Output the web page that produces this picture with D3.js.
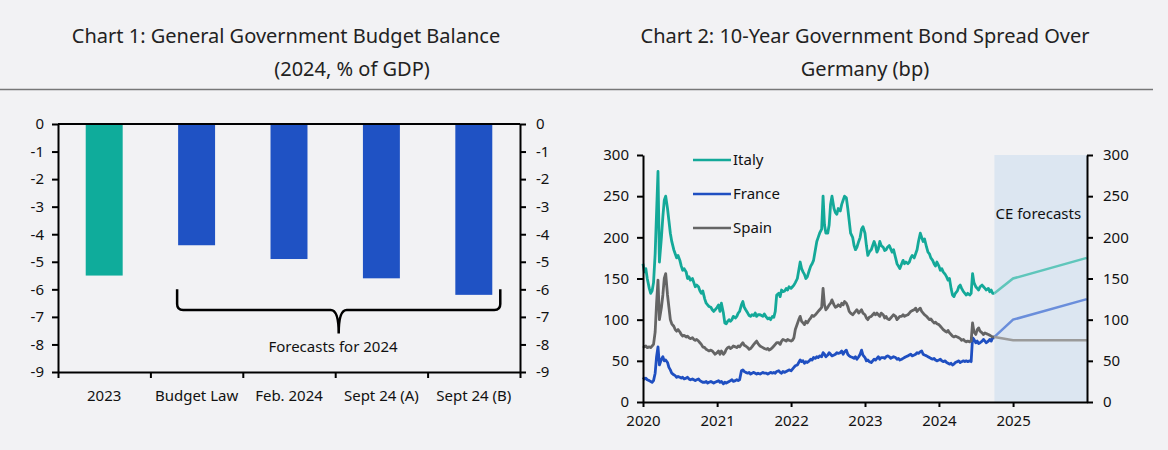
<!DOCTYPE html>
<html><head><meta charset="utf-8">
<script src="https://cdn.jsdelivr.net/npm/d3@7"></script>
<style>
html,body{margin:0;padding:0;background:#f2f2f4;}
svg{display:block;font-family:"Noto Sans",sans-serif;}
</style></head><body>
<svg id="c" width="1168" height="450"></svg>
<script>
// ---------- Chart 1 data ----------
const budgetCategories = ["2023", "Budget Law", "Feb. 2024", "Sept 24 (A)", "Sept 24 (B)"];
const budgetValues = [-5.5, -4.4, -4.9, -5.6, -6.2];
const budgetTicks = [0, -1, -2, -3, -4, -5, -6, -7, -8, -9];

// ---------- Chart 2 data (weekly: days 1, 8, 15, 22 of each month, Jan 2020 - Sep 2024, then 1 Oct 2024) ----------
const weekDays = [1, 8, 15, 22];
const italy = [
 168,158,162,150, 138,132,135,145, 180,230,280,170, 200,225,245,250, 235,220,205,195, 185,180,175,178, 172,165,160,162, 158,150,152,148, 150,145,140,142, 140,135,132,135, 125,120,118,116, 115,112,110,112,
 115,118,110,120, 108,96,95,98, 100,98,100,104, 102,104,108,110, 118,122,115,112, 108,105,104,106, 105,108,104,106, 106,105,104,107, 103,101,102,100, 104,103,110,130, 132,128,136,134, 135,138,136,140,
 138,140,142,145, 150,160,170,162, 158,155,150,152, 160,165,168,172, 185,195,200,205, 210,250,215,205, 205,215,240,250, 235,230,228,235, 232,240,245,250, 248,235,220,205, 200,190,185,188, 195,200,210,213,
 205,190,178,182, 185,190,195,190, 182,186,195,190, 188,184,185,188, 190,186,182,185, 175,168,165,162, 168,172,168,170, 168,170,175,178, 175,180,185,195, 205,200,195,198, 188,182,180,175, 172,168,165,170,
 165,160,162,158, 155,152,148,150, 138,130,128,132, 135,140,142,138, 134,132,130,132, 130,132,156,145, 140,138,136,140, 142,140,138,136, 138,134,136,132,
 132
];
const france = [
 30,28,29,27, 26,25,24,26, 35,55,67,45, 52,55,50,51, 48,42,39,35, 33,32,30,31, 30,29,30,28, 29,30,28,27, 28,27,26,27, 28,26,25,24, 24,25,23,24, 25,24,23,24,
 25,26,24,25, 22,24,23,24, 25,26,27,25, 26,27,26,27, 38,39,37,36, 35,36,34,35, 36,35,34,35, 34,35,36,35, 35,34,35,36, 35,36,35,37, 38,36,35,37, 36,37,38,39,
 38,40,42,44, 45,48,51,49, 50,47,49,48, 50,52,51,54, 53,55,54,56, 55,60,58,55, 57,60,58,56, 57,58,60,59, 60,62,58,61, 63,58,56,55, 54,53,55,52, 55,58,63,57,
 54,50,51,49, 48,50,52,51, 53,55,52,54, 54,53,55,56, 55,53,54,55, 54,52,53,51, 52,53,54,55, 56,57,58,56, 57,58,60,59, 61,62,58,57, 56,55,54,53, 52,53,51,50,
 51,52,50,49, 50,48,47,46, 47,45,46,48, 49,50,48,49, 50,49,50,49, 50,49,78,76, 72,74,71,72, 74,76,74,72, 74,76,74,78,
 78
];
const spain = [
 68,67,68,66, 67,66,68,70, 85,120,148,100, 115,130,150,156, 130,115,100,95, 92,88,86,88, 85,82,80,81, 79,80,78,77, 78,76,75,76, 74,72,70,67, 66,64,63,62, 63,62,60,58,
 60,62,58,62, 58,60,64,66, 67,65,66,68, 67,66,68,67, 70,72,69,68, 66,64,65,67, 70,72,74,71, 68,67,66,65, 64,65,63,64, 66,68,70,72, 72,70,74,76, 75,74,76,75,
 74,75,78,88, 95,100,104,98, 96,94,98,96, 100,102,105,104, 106,108,110,112, 115,138,118,112, 115,118,120,124, 118,115,116,118, 116,120,118,122, 120,116,110,108, 106,108,110,112, 108,110,112,108,
 106,102,100,103, 104,106,108,106, 108,106,104,108, 106,102,104,101, 100,102,104,106, 104,100,102,104, 104,106,104,105, 106,108,110,111, 112,114,110,112, 114,110,108,106, 104,102,100,101, 98,96,97,95,
 94,92,90,88, 86,85,87,84, 82,80,79,80, 79,78,77,75, 76,74,73,74, 73,74,96,85, 82,88,90,86, 84,82,84,83, 82,81,80,79,
 79
];
const forecastDates = ["2024-10-01", "2025-01-01", "2025-12-31"];
const italyForecast = [132, 150, 175];
const franceForecast = [79, 100, 125];
const spainForecast = [79, 75, 75];
const spreadTicks = [0, 50, 100, 150, 200, 250, 300];
const yearTicks = [2020, 2021, 2022, 2023, 2024, 2025];
const seriesNames = ["Italy", "France", "Spain"];
const seriesColors = ["#14a999", "#1f4fc1", "#656565"];
const forecastColors = ["#5fc6bb", "#6a8edb", "#9a9a9a"];

const svg = d3.select("#c");
const parse = d3.timeParse("%Y-%m-%d");

// ---------- Titles & rule ----------
const titleStyle = s => s.attr("font-size", 20).attr("fill", "#222").attr("text-anchor", "middle");
svg.append("text").attr("x", 286).attr("y", 43).text("Chart 1: General Government Budget Balance").call(titleStyle);
svg.append("text").attr("x", 352).attr("y", 76).text("(2024, % of GDP)").call(titleStyle);
svg.append("text").attr("x", 865).attr("y", 43).text("Chart 2: 10-Year Government Bond Spread Over").call(titleStyle);
svg.append("text").attr("x", 865).attr("y", 76).text("Germany (bp)").call(titleStyle);
svg.append("line").attr("x1", 0).attr("x2", 1153).attr("y1", 89.5).attr("y2", 89.5)
  .attr("stroke", "#777").attr("stroke-width", 1.5);

// ---------- Chart 1 ----------
const x1 = d3.scaleBand().domain(budgetCategories).range([58, 520]).paddingInner(0.6).paddingOuter(0.3);
const y1 = d3.scaleLinear().domain([0, -9]).range([124, 372]);
const g1 = svg.append("g");

g1.selectAll("rect.bar").data(budgetCategories).join("rect")
  .attr("x", d => x1(d)).attr("width", x1.bandwidth())
  .attr("y", y1(0)).attr("height", (d, i) => y1(budgetValues[i]) - y1(0))
  .attr("fill", (d, i) => i === 0 ? "#0fac9b" : "#1f52c4");

function styleAxis(g) {
  g.select(".domain").attr("stroke", "#000").attr("stroke-width", 2);
  g.selectAll(".tick line").attr("stroke", "#000").attr("stroke-width", 2);
  g.selectAll(".tick text").attr("font-size", 15).attr("fill", "#111").attr("font-family", "Noto Sans");
}
const hyphenFmt = d => String(d);
g1.append("g").attr("transform", "translate(58,0)")
  .call(d3.axisLeft(y1).tickValues(budgetTicks).tickSize(6).tickPadding(8).tickSizeOuter(0).tickFormat(hyphenFmt))
  .call(styleAxis);
g1.append("g").attr("transform", "translate(520,0)")
  .call(d3.axisRight(y1).tickValues(budgetTicks).tickSize(6).tickPadding(10).tickSizeOuter(0).tickFormat(hyphenFmt))
  .call(styleAxis);
// top zero line
g1.append("line").attr("x1", 58).attr("x2", 520).attr("y1", y1(0)).attr("y2", y1(0))
  .attr("stroke", "#000").attr("stroke-width", 2);
// bottom axis with boundary ticks
const xb = d3.scaleLinear().domain([0, budgetCategories.length]).range([58, 520]);
g1.append("g").attr("transform", `translate(0,${y1(-9)})`)
  .call(d3.axisBottom(xb).tickValues(d3.range(budgetCategories.length + 1)).tickSize(6).tickSizeOuter(0).tickFormat(""))
  .call(styleAxis);
g1.selectAll("text.cat").data(budgetCategories).join("text")
  .attr("x", d => x1(d) + x1.bandwidth() / 2).attr("y", 401)
  .attr("text-anchor", "middle").attr("font-size", 15).attr("fill", "#111").text(d => d);

// brace
const bL = x1("Budget Law") - 1, bR = x1("Sept 24 (B)") + x1.bandwidth() + 8;
const bM = (bL + bR) / 2, bTop = y1(-6), bH = y1(-6.75), bTip = y1(-7.6), r = 6;
g1.append("path")
  .attr("d", `M${bL},${bTop} L${bL},${bH - r} Q${bL},${bH} ${bL + r},${bH} L${bM - 8},${bH} Q${bM},${bH} ${bM},${bTip} Q${bM},${bH} ${bM + 8},${bH} L${bR - r},${bH} Q${bR},${bH} ${bR},${bH - r} L${bR},${bTop}`)
  .attr("fill", "none").attr("stroke", "#000").attr("stroke-width", 2.5);
g1.append("text").attr("x", 333).attr("y", 352).attr("text-anchor", "middle")
  .attr("font-size", 15).attr("fill", "#111").text("Forecasts for 2024");

// ---------- Chart 2 ----------
const months = d3.timeMonth.range(new Date(2020, 0, 1), new Date(2024, 9, 1));
const dates = [];
months.forEach(m => weekDays.forEach(d => dates.push(new Date(m.getFullYear(), m.getMonth(), d))));
dates.push(new Date(2024, 9, 1));

const x2 = d3.scaleTime().domain([new Date(2020, 0, 1), new Date(2026, 0, 1)]).range([643, 1087]);
const y2 = d3.scaleLinear().domain([0, 300]).range([402, 155]);
const g2 = svg.append("g");

// forecast shading
const fStart = parse(forecastDates[0]);
g2.append("rect").attr("x", x2(fStart)).attr("width", x2(new Date(2026, 0, 1)) - x2(fStart))
  .attr("y", y2(300)).attr("height", y2(0) - y2(300)).attr("fill", "#dce6f1");
g2.append("text").attr("x", x2(fStart) + 1).attr("y", 219).attr("font-size", 15).attr("fill", "#111").text("CE forecasts");

const line = d3.line().x(d => x2(d[0])).y(d => y2(d[1]));
[italy, france, spain].forEach((s, i) => {
  g2.append("path").datum(dates.map((d, j) => [d, s[j]]))
    .attr("d", line).attr("fill", "none").attr("stroke", seriesColors[i])
    .attr("stroke-width", 2.8).attr("stroke-linejoin", "round");
});
[italyForecast, franceForecast, spainForecast].forEach((s, i) => {
  g2.append("path").datum(forecastDates.map((d, j) => [parse(d), s[j]]))
    .attr("d", line).attr("fill", "none").attr("stroke", forecastColors[i]).attr("stroke-width", 2.5);
});

g2.append("g").attr("transform", "translate(643,0)")
  .call(d3.axisLeft(y2).tickValues(spreadTicks).tickSize(6).tickPadding(8).tickSizeOuter(0))
  .call(styleAxis);
g2.append("g").attr("transform", "translate(1087,0)")
  .call(d3.axisRight(y2).tickValues(spreadTicks).tickSize(6).tickPadding(10).tickSizeOuter(0))
  .call(styleAxis);
g2.append("g").attr("transform", "translate(0,402)")
  .call(d3.axisBottom(x2).tickValues(yearTicks.map(y => new Date(y, 0, 1))).tickSize(5).tickPadding(8).tickSizeOuter(0).tickFormat(d3.timeFormat("%Y")))
  .call(styleAxis);

// legend
const legY = [160, 194, 228];
seriesNames.forEach((n, i) => {
  g2.append("line").attr("x1", 693).attr("x2", 731).attr("y1", legY[i]).attr("y2", legY[i])
    .attr("stroke", seriesColors[i]).attr("stroke-width", 2.5);
  g2.append("text").attr("x", 733).attr("y", legY[i] + 5).attr("font-size", 15).attr("fill", "#111").text(n);
});
</script>
</body></html>
